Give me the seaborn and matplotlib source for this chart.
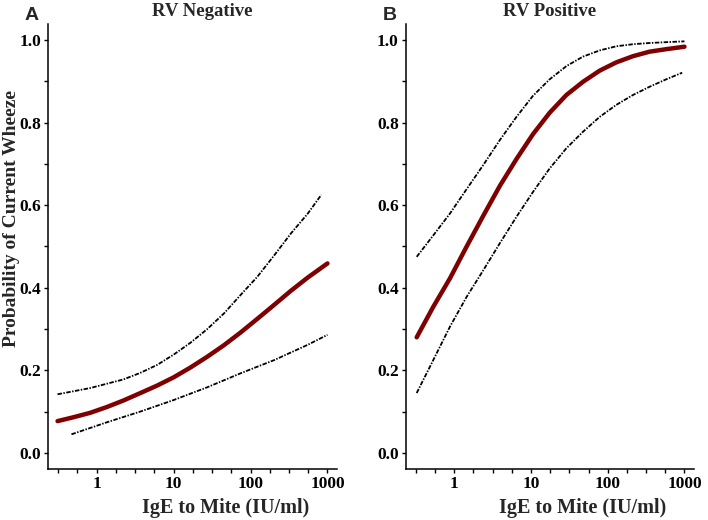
import numpy as np
import pandas as pd
import matplotlib
matplotlib.use('Agg')
import matplotlib.pyplot as plt
import seaborn as sns
from matplotlib.ticker import FixedLocator, MultipleLocator, FuncFormatter

# RV Negative (panel A)
neg_fit_x = [0.31, 0.49, 0.82, 1.35, 2.23, 3.7, 6.09, 10, 16.6, 27.4, 45.2, 74.6, 123, 204, 336, 556, 1000]
neg_fit_y = [0.077, 0.086, 0.097, 0.111, 0.127, 0.145, 0.163, 0.183, 0.207, 0.233, 0.261, 0.292, 0.325,
             0.359, 0.393, 0.425, 0.459]
neg_up_x = [0.31, 0.82, 2.23, 3.7, 6.09, 10, 16.6, 27.4, 45.2, 74.6, 123, 204, 336, 556, 830]
neg_up_y = [0.142, 0.157, 0.178, 0.194, 0.213, 0.238, 0.267, 0.300, 0.338, 0.383, 0.427, 0.479, 0.532,
            0.580, 0.625]
neg_lo_x = [0.47, 1.35, 3.68, 10, 27.4, 74.6, 204, 556, 1000]
neg_lo_y = [0.045, 0.074, 0.100, 0.128, 0.159, 0.193, 0.225, 0.262, 0.286]

# RV Positive (panel B)
pos_fit_x = [0.324, 0.533, 0.88, 1.45, 2.38, 3.93, 6.47, 10.6, 17.5, 28.9, 47.6, 78.5, 129, 213, 351, 578, 1000]
pos_fit_y = [0.280, 0.354, 0.423, 0.500, 0.574, 0.647, 0.712, 0.772, 0.824, 0.867, 0.899, 0.926, 0.946,
             0.961, 0.972, 0.978, 0.984]
pos_up_x = [0.324, 0.533, 0.88, 1.45, 2.38, 3.93, 6.47, 10.6, 17.5, 28.9, 47.6, 78.5, 129, 213, 351, 578, 1000]
pos_up_y = [0.475, 0.527, 0.580, 0.639, 0.697, 0.758, 0.814, 0.865, 0.905, 0.937, 0.960, 0.975, 0.985,
            0.990, 0.993, 0.995, 0.997]
pos_lo_x = [0.324, 0.533, 0.88, 1.45, 2.38, 3.93, 6.47, 10.6, 17.5, 28.9, 47.6, 78.5, 129, 213, 351, 578, 933]
pos_lo_y = [0.145, 0.225, 0.306, 0.378, 0.442, 0.508, 0.572, 0.632, 0.689, 0.738, 0.778, 0.814, 0.843,
            0.867, 0.887, 0.905, 0.921]

panels = [
    ('A', 'RV Negative', (neg_fit_x, neg_fit_y), (neg_up_x, neg_up_y), (neg_lo_x, neg_lo_y)),
    ('B', 'RV Positive', (pos_fit_x, pos_fit_y), (pos_up_x, pos_up_y), (pos_lo_x, pos_lo_y)),
]
y_ticks = [0.0, 0.2, 0.4, 0.6, 0.8, 1.0]
x_ticks = [1, 10, 100, 1000]

sns.set_style('ticks')
plt.rcParams['font.family'] = ['Liberation Serif', 'DejaVu Serif']
plt.rcParams['font.weight'] = 'bold'

fig = plt.figure(figsize=(7.08, 5.20), dpi=100)
W, H = 708, 520
positions = [(48, 337), (405.7, 694)]
top_px, bot_px = 24, 469

dash = (0, (2.5, 0.8, 0.8, 0.8))

for (letter, title, fit, up, lo), (x0, x1) in zip(panels, positions):
    ax = fig.add_axes([x0 / W, 1 - bot_px / H, (x1 - x0) / W, (bot_px - top_px) / H])
    sns.lineplot(x=up[0], y=up[1], ax=ax, color='black', lw=1.3, linestyle=dash, sort=False)
    sns.lineplot(x=lo[0], y=lo[1], ax=ax, color='black', lw=1.3, linestyle=dash, sort=False)
    sns.lineplot(x=fit[0], y=fit[1], ax=ax, color='#7f0000', lw=3.2, sort=False,
                 solid_capstyle='round', solid_joinstyle='round')
    ax.set_xscale('log')
    ax.set_xlim(0.233, 1330)
    ax.set_ylim(-0.039, 1.039)
    ax.xaxis.set_major_locator(FixedLocator(x_ticks))
    ax.xaxis.set_minor_locator(FixedLocator([10 ** (k / 4) for k in range(-2, 13) if k % 4]))
    ax.xaxis.set_major_formatter(FuncFormatter(lambda v, p: '%g' % v))
    ax.xaxis.set_minor_formatter(FuncFormatter(lambda v, p: ''))
    ax.yaxis.set_major_locator(FixedLocator(y_ticks))
    ax.yaxis.set_minor_locator(MultipleLocator(0.1))
    ax.yaxis.set_major_formatter(FuncFormatter(lambda v, p: '%.1f' % v))
    ax.tick_params(which='both', direction='out', length=3, width=1, colors='black',
                   labelsize=12.5, pad=2)
    for lab in ax.get_xticklabels() + ax.get_yticklabels():
        lab.set_fontweight('bold')
    for s in ['left', 'bottom']:
        ax.spines[s].set_linewidth(1.1)
        ax.spines[s].set_color('black')
    sns.despine(ax=ax)
    ax.set_xlabel('')
    ax.set_ylabel('')
    cx = (x0 + x1) / 2
    fig.text(cx / W if letter == 'B' else (cx + 10) / W, 1 - 11 / H, title, ha='center', va='center',
             fontsize=13.5, fontweight='bold')
    fig.text((x0 + 33 + (x1 - x0) / 2) / W, 1 - 508 / H, 'IgE to Mite (IU/ml)', ha='center',
             va='center', fontsize=14.5, fontweight='bold')
    fig.text((x0 - 16) / W, 1 - 15 / H, letter, ha='center', va='center', fontsize=14,
             fontweight='bold', family=['Liberation Sans', 'DejaVu Sans'])

fig.text(12 / W, 1 - 218 / H, 'Probability of Current Wheeze', rotation=90, ha='center',
         va='center', fontsize=14, fontweight='bold')

fig.savefig('out.png', dpi=100)
